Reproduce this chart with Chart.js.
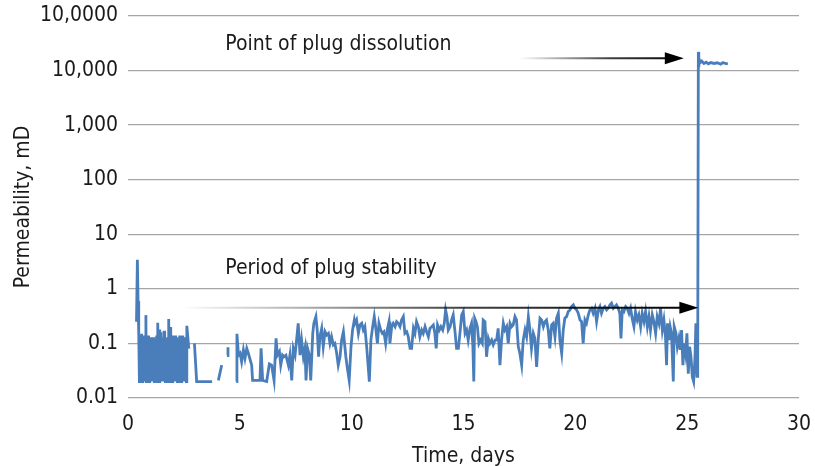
<!DOCTYPE html>
<html>
<head>
<meta charset="utf-8">
<script src="https://cdn.jsdelivr.net/npm/chart.js@4/dist/chart.umd.min.js"></script>
<style>
  html, body { margin: 0; padding: 0; background: #fff; }
  #wrap { width: 815px; height: 466px; position: relative; }
</style>
</head>
<body>
<div id="wrap"><canvas id="perm-chart"></canvas></div>
<script>
// Permeability readings, [time in days, permeability in mD]
const startupReadings = [
  [0.38, 0.25], [0.42, 3.4], [0.45, 0.6], [0.47, 0.2],
  [0.49, 0.15], [0.51, 0.02], [0.53, 0.14], [0.55, 0.02], [0.57, 0.13], [0.59, 0.02],
  [0.61, 0.15], [0.63, 0.02], [0.65, 0.12], [0.67, 0.02], [0.69, 0.14], [0.71, 0.03],
  [0.73, 0.12], [0.75, 0.02], [0.77, 0.13], [0.80, 0.33], [0.82, 0.02], [0.84, 0.13],
  [0.86, 0.02], [0.88, 0.12], [0.90, 0.02], [0.92, 0.14], [0.94, 0.02], [0.96, 0.13],
  [0.98, 0.02], [1.00, 0.13], [1.02, 0.02], [1.04, 0.12], [1.06, 0.02], [1.08, 0.12],
  [1.10, 0.02], [1.12, 0.13], [1.14, 0.02], [1.16, 0.13], [1.18, 0.02], [1.20, 0.12],
  [1.22, 0.02], [1.24, 0.12], [1.26, 0.02], [1.28, 0.14], [1.30, 0.02], [1.33, 0.24],
  [1.35, 0.02], [1.37, 0.15], [1.39, 0.02], [1.41, 0.18], [1.43, 0.02], [1.45, 0.16],
  [1.47, 0.02], [1.49, 0.12], [1.51, 0.02], [1.53, 0.12], [1.55, 0.02], [1.57, 0.13],
  [1.59, 0.02], [1.61, 0.17], [1.63, 0.02], [1.65, 0.12], [1.67, 0.02], [1.69, 0.12],
  [1.71, 0.02], [1.73, 0.12], [1.75, 0.02], [1.77, 0.13], [1.79, 0.02], [1.81, 0.14],
  [1.83, 0.28], [1.85, 0.02], [1.87, 0.18], [1.89, 0.02], [1.91, 0.20], [1.93, 0.02],
  [1.95, 0.13], [1.97, 0.02], [1.99, 0.14], [2.01, 0.02], [2.03, 0.12], [2.05, 0.02],
  [2.07, 0.13], [2.09, 0.02], [2.11, 0.14], [2.13, 0.02], [2.15, 0.12], [2.17, 0.02],
  [2.19, 0.13], [2.21, 0.02], [2.23, 0.12], [2.25, 0.02], [2.27, 0.12], [2.29, 0.02],
  [2.31, 0.14], [2.33, 0.02], [2.35, 0.12], [2.37, 0.02], [2.39, 0.12], [2.41, 0.02],
  [2.43, 0.14], [2.45, 0.02], [2.47, 0.12], [2.49, 0.02], [2.51, 0.13], [2.53, 0.02],
  [2.55, 0.13], [2.57, 0.02], [2.59, 0.12], [2.61, 0.02], [2.63, 0.21], [2.72, 0.08]
];

// short broken pieces while readings were patchy
const patchyReadings = [
  [[2.97, 0.10], [3.07, 0.02], [3.76, 0.02]],
  [[4.04, 0.021], [4.19, 0.04]],
  [[4.43, 0.06], [4.47, 0.085]]
];

const stableReadings = [
  [4.84, 0.02], [4.87, 0.15], [4.94, 0.061],
  [5.01, 0.066], [5.08, 0.046], [5.16, 0.076], [5.23, 0.053], [5.31, 0.081], [5.38, 0.066],
  [5.53, 0.040], [5.57, 0.021], [5.90, 0.021], [5.95, 0.081], [6.02, 0.021], [6.20, 0.02],
  [6.32, 0.042], [6.42, 0.040], [6.53, 0.021], [6.62, 0.124], [6.68, 0.061], [6.77, 0.071],
  [6.83, 0.040], [6.91, 0.061], [6.97, 0.057], [7.06, 0.061], [7.17, 0.040], [7.24, 0.061],
  [7.32, 0.021], [7.39, 0.081], [7.47, 0.061], [7.61, 0.234], [7.69, 0.061], [7.76, 0.115],
  [7.84, 0.057], [7.91, 0.081], [7.96, 0.021], [8.03, 0.081], [8.11, 0.061], [8.17, 0.021],
  [8.26, 0.153], [8.31, 0.234], [8.40, 0.31], [8.46, 0.176], [8.52, 0.057], [8.58, 0.133],
  [8.66, 0.189], [8.73, 0.087], [8.81, 0.164], [8.88, 0.143], [8.96, 0.153], [9.03, 0.100],
  [9.10, 0.133], [9.18, 0.094], [9.25, 0.100], [9.33, 0.066], [9.40, 0.040], [9.48, 0.057],
  [9.55, 0.115], [9.63, 0.164], [9.74, 0.057], [9.80, 0.037], [9.89, 0.021], [9.97, 0.087],
  [10.04, 0.176], [10.12, 0.269], [10.15, 0.234], [10.22, 0.269], [10.30, 0.153], [10.37, 0.218],
  [10.45, 0.234], [10.52, 0.176], [10.59, 0.203], [10.67, 0.087], [10.74, 0.037], [10.79, 0.02],
  [10.86, 0.115], [10.94, 0.203], [11.01, 0.31], [11.07, 0.203], [11.15, 0.100], [11.22, 0.234],
  [11.30, 0.176], [11.37, 0.153], [11.44, 0.164], [11.52, 0.100], [11.59, 0.176], [11.67, 0.251],
  [11.71, 0.100], [11.79, 0.203], [11.86, 0.234], [11.94, 0.203], [12.01, 0.251], [12.08, 0.234],
  [12.16, 0.203], [12.23, 0.269], [12.31, 0.31], [12.38, 0.153], [12.46, 0.164], [12.53, 0.133],
  [12.61, 0.081], [12.68, 0.081], [12.76, 0.189], [12.83, 0.153], [12.90, 0.251], [12.98, 0.203],
  [13.05, 0.133], [13.13, 0.176], [13.20, 0.153], [13.28, 0.203], [13.35, 0.164], [13.43, 0.133],
  [13.50, 0.189], [13.58, 0.203], [13.65, 0.218], [13.72, 0.153], [13.78, 0.081], [13.84, 0.218],
  [13.92, 0.176], [13.99, 0.203], [14.07, 0.176], [14.14, 0.234], [14.20, 0.411], [14.26, 0.31],
  [14.32, 0.176], [14.40, 0.203], [14.47, 0.269], [14.54, 0.333], [14.62, 0.164], [14.69, 0.081],
  [14.77, 0.081], [14.84, 0.153], [14.92, 0.333], [14.99, 0.383], [15.07, 0.153], [15.14, 0.176],
  [15.21, 0.115], [15.29, 0.189], [15.36, 0.234], [15.42, 0.087], [15.46, 0.02], [15.50, 0.289],
  [15.56, 0.251], [15.62, 0.203], [15.69, 0.100], [15.76, 0.115], [15.84, 0.100], [15.88, 0.269],
  [15.96, 0.251], [16.03, 0.057], [16.11, 0.124], [16.18, 0.100], [16.26, 0.115], [16.33, 0.094],
  [16.41, 0.115], [16.48, 0.115], [16.55, 0.189], [16.63, 0.040], [16.70, 0.115], [16.78, 0.234],
  [16.85, 0.176], [16.93, 0.203], [17.00, 0.100], [17.08, 0.234], [17.15, 0.203], [17.22, 0.218],
  [17.30, 0.31], [17.37, 0.269], [17.45, 0.087], [17.52, 0.066], [17.60, 0.040], [17.67, 0.115],
  [17.75, 0.176], [17.82, 0.133], [17.90, 0.31], [17.97, 0.176], [18.04, 0.081], [18.12, 0.153],
  [18.19, 0.124], [18.27, 0.037], [18.34, 0.115], [18.42, 0.289], [18.49, 0.269], [18.57, 0.203],
  [18.64, 0.251], [18.71, 0.269], [18.79, 0.176], [18.86, 0.081], [18.94, 0.218], [19.01, 0.234],
  [19.09, 0.133], [19.16, 0.289], [19.24, 0.357], [19.31, 0.115], [19.39, 0.066], [19.46, 0.176],
  [19.53, 0.289], [19.61, 0.31], [19.68, 0.383], [19.76, 0.411], [19.83, 0.473], [19.91, 0.508],
  [19.98, 0.441], [20.06, 0.411], [20.13, 0.357], [20.21, 0.269], [20.28, 0.251], [20.35, 0.100],
  [20.43, 0.269], [20.50, 0.234], [20.58, 0.333], [20.65, 0.411], [20.73, 0.441], [20.80, 0.357],
  [20.88, 0.441], [20.95, 0.251], [21.03, 0.411], [21.10, 0.473], [21.17, 0.357], [21.25, 0.441],
  [21.32, 0.473], [21.40, 0.411], [21.47, 0.441], [21.55, 0.508], [21.62, 0.545], [21.70, 0.441],
  [21.77, 0.473], [21.84, 0.508], [21.92, 0.441], [21.99, 0.357], [22.04, 0.124], [22.10, 0.411],
  [22.17, 0.383], [22.25, 0.473], [22.32, 0.441], [22.40, 0.357], [22.47, 0.441], [22.54, 0.289],
  [22.62, 0.203], [22.69, 0.383], [22.77, 0.269], [22.84, 0.333], [22.92, 0.203], [22.99, 0.357],
  [23.07, 0.251], [23.14, 0.383], [23.22, 0.203], [23.29, 0.31], [23.36, 0.176], [23.44, 0.333],
  [23.51, 0.251], [23.59, 0.153], [23.66, 0.31], [23.74, 0.234], [23.81, 0.441], [23.89, 0.176],
  [23.96, 0.269], [24.03, 0.133], [24.08, 0.040], [24.12, 0.234], [24.18, 0.115], [24.24, 0.203],
  [24.30, 0.153], [24.38, 0.02], [24.42, 0.203], [24.50, 0.153], [24.56, 0.087], [24.63, 0.124],
  [24.69, 0.076], [24.75, 0.176], [24.81, 0.040], [24.87, 0.100], [24.93, 0.066], [24.99, 0.153],
  [25.05, 0.028], [25.11, 0.087], [25.17, 0.057], [25.23, 0.0245], [25.29, 0.02], [25.35, 0.057],
  [25.39, 0.234], [25.44, 0.025], [25.47, 0.03]
];

const dissolvedReadings = [
  [25.50, 22000], [25.52, 11500], [25.54, 16000], [25.58, 14000], [25.65, 15000], [25.75, 13500],
  [25.85, 14200], [25.95, 13300], [26.05, 14000], [26.20, 13500], [26.35, 13900], [26.50, 13100],
  [26.60, 14000], [26.70, 13500], [26.82, 13300]
];

// axis ticks
const yTickValues = [0.01, 0.1, 1, 10, 100, 1000, 10000, 100000];
const yTickLabels = ['0.01', '0.1', '1', '10', '100', '1,000', '10,000', '10,0000'];
const xTickValues = [0, 5, 10, 15, 20, 25, 30];

// annotation arrows: text, text anchor (day, mD), arrow from/to (day), arrow level (mD)
const arrowNotes = [
  { text: 'Point of plug dissolution', textDay: 4.35, textLevel: 30000, fromDay: 17.5, toDay: 24.85, level: 16900 },
  { text: 'Period of plug stability', textDay: 4.35, textLevel: 2.4, fromDay: 2.35, toDay: 25.5, level: 0.45 }
];

const FONT_FAMILY = "'DejaVu Sans Condensed', 'Liberation Sans Narrow', sans-serif";
const FONT_SIZE = 21;
const LINE_COLOR = '#4a7ebb';
const GRID_COLOR = '#a6a6a6';

// join the pieces, null breaks the line where readings are missing
function toPoints() {
  const pts = [];
  startupReadings.forEach(([x, y]) => pts.push({ x, y }));
  patchyReadings.forEach(piece => {
    pts.push({ x: piece[0][0] - 0.01, y: null });
    piece.forEach(([x, y]) => pts.push({ x, y }));
  });
  pts.push({ x: stableReadings[0][0] - 0.01, y: null });
  stableReadings.forEach(([x, y]) => pts.push({ x, y }));
  dissolvedReadings.forEach(([x, y]) => pts.push({ x, y }));
  return pts;
}

const arrowPlugin = {
  id: 'arrowNotes',
  afterDatasetsDraw(chart) {
    const { ctx, scales } = chart;
    ctx.save();
    arrowNotes.forEach(note => {
      const x1 = scales.x.getPixelForValue(note.fromDay);
      const x2 = scales.x.getPixelForValue(note.toDay);
      const y = scales.y.getPixelForValue(note.level);
      const head = 19;
      const grad = ctx.createLinearGradient(x1, 0, x2, 0);
      grad.addColorStop(0, 'rgba(0,0,0,0)');
      grad.addColorStop(0.55, 'rgba(0,0,0,0.75)');
      grad.addColorStop(1, 'rgba(0,0,0,1)');
      ctx.strokeStyle = grad;
      ctx.lineWidth = 2;
      ctx.beginPath();
      ctx.moveTo(x1, y);
      ctx.lineTo(x2 - head + 2, y);
      ctx.stroke();
      ctx.fillStyle = '#000';
      ctx.beginPath();
      ctx.moveTo(x2, y);
      ctx.lineTo(x2 - head, y - 6);
      ctx.lineTo(x2 - head, y + 6);
      ctx.closePath();
      ctx.fill();

      ctx.fillStyle = '#1a1a1a';
      ctx.font = FONT_SIZE + 'px ' + FONT_FAMILY;
      ctx.textAlign = 'left';
      ctx.textBaseline = 'middle';
      ctx.fillText(note.text, scales.x.getPixelForValue(note.textDay), scales.y.getPixelForValue(note.textLevel));
    });
    ctx.restore();
  }
};

function renderChart() {
  const ctx = document.getElementById('perm-chart').getContext('2d');
  return new Chart(ctx, {
    type: 'line',
    data: {
      datasets: [{
        data: toPoints(),
        borderColor: LINE_COLOR,
        borderWidth: 2.8,
        pointRadius: 0,
        tension: 0,
        spanGaps: false,
        fill: false
      }]
    },
    options: {
      responsive: true,
      maintainAspectRatio: false,
      animation: false,
      events: [],
      layout: { padding: { left: 0, right: 16, top: 16, bottom: 0 } },
      plugins: { legend: { display: false }, tooltip: { enabled: false } },
      scales: {
        x: {
          type: 'linear',
          min: 0,
          max: 30,
          afterBuildTicks: scale => { scale.ticks = xTickValues.map(v => ({ value: v })); },
          afterFit: scale => { scale.height = 68; scale.paddingLeft = 0; scale.paddingRight = 0; },
          grid: { display: false },
          border: { display: false },
          ticks: { color: '#1a1a1a', padding: 6, maxRotation: 0, font: { family: FONT_FAMILY, size: FONT_SIZE } },
          title: {
            display: true,
            text: 'Time, days',
            color: '#1a1a1a',
            padding: { top: 0, bottom: -3 },
            font: { family: FONT_FAMILY, size: FONT_SIZE }
          }
        },
        y: {
          type: 'logarithmic',
          min: 0.01,
          max: 100000,
          afterBuildTicks: scale => { scale.ticks = yTickValues.map(v => ({ value: v })); },
          afterFit: scale => { scale.width = 128; scale.paddingTop = 0; scale.paddingBottom = 0; },
          grid: { color: GRID_COLOR, lineWidth: 1.3, drawTicks: false },
          border: { display: false },
          ticks: {
            color: '#1a1a1a',
            padding: 10,
            font: { family: FONT_FAMILY, size: FONT_SIZE },
            callback: (value, index) => yTickLabels[index]
          },
          title: {
            display: true,
            text: 'Permeability, mD',
            color: '#1a1a1a',
            padding: { top: 11, bottom: 0 },
            font: { family: FONT_FAMILY, size: FONT_SIZE }
          }
        }
      }
    },
    plugins: [arrowPlugin]
  });
}

renderChart();
</script>
</body>
</html>
